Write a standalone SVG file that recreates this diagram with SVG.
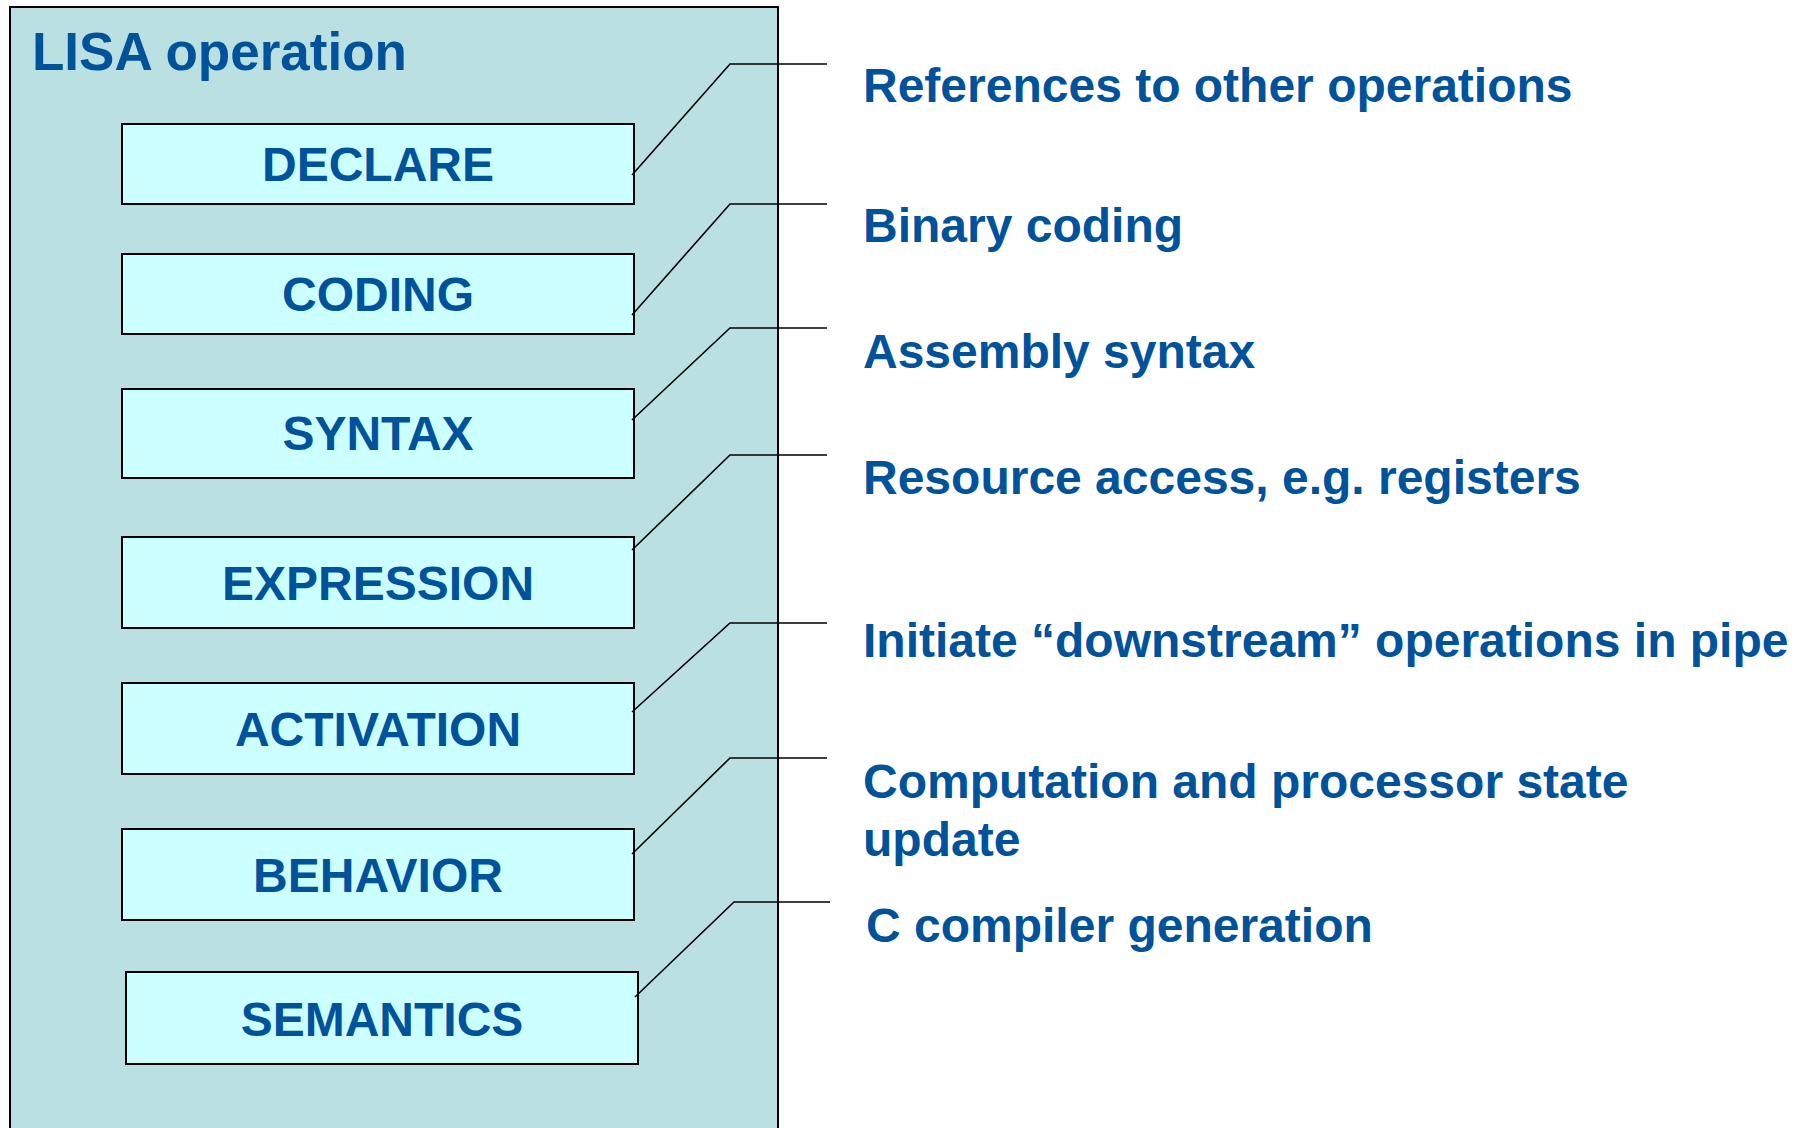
<svg xmlns="http://www.w3.org/2000/svg" width="1799" height="1128" viewBox="0 0 1799 1128">
  <style>
    .frame { fill: #BAE0E2; stroke: #000; stroke-width: 2; }
    .box { fill: #CCFFFF; stroke: #000; stroke-width: 2; }
    .lbl { font-family: "Liberation Sans", Arial, sans-serif; font-weight: bold; font-size: 48px; fill: #00529B; }
    .mid { text-anchor: middle; }
    .title { font-size: 53px; }
    .wire { fill: none; stroke: #000; stroke-width: 1.6; }
  </style>
  <rect width="1799" height="1128" fill="#FFFFFF"/>

  <!-- enclosing operation frame -->
  <g id="lisa-operation">
    <rect class="frame" x="10" y="7" width="768" height="1130"/>
    <text class="lbl title" x="32" y="70">LISA operation</text>
  </g>

  <!-- sections -->
  <g id="declare">
    <rect class="box" x="122" y="124" width="512" height="80"/>
    <text class="lbl mid" x="378" y="181">DECLARE</text>
  </g>
  <g id="coding">
    <rect class="box" x="122" y="254" width="512" height="80"/>
    <text class="lbl mid" x="378" y="311">CODING</text>
  </g>
  <g id="syntax">
    <rect class="box" x="122" y="389" width="512" height="89"/>
    <text class="lbl mid" x="378" y="450">SYNTAX</text>
  </g>
  <g id="expression">
    <rect class="box" x="122" y="537" width="512" height="91"/>
    <text class="lbl mid" x="378" y="600">EXPRESSION</text>
  </g>
  <g id="activation">
    <rect class="box" x="122" y="683" width="512" height="91"/>
    <text class="lbl mid" x="378" y="746">ACTIVATION</text>
  </g>
  <g id="behavior">
    <rect class="box" x="122" y="829" width="512" height="91"/>
    <text class="lbl mid" x="378" y="892">BEHAVIOR</text>
  </g>
  <g id="semantics">
    <rect class="box" x="126" y="972" width="512" height="92"/>
    <text class="lbl mid" x="382" y="1036">SEMANTICS</text>
  </g>

  <!-- leader lines from sections to descriptions -->
  <g id="connectors">
    <polyline class="wire" points="632,175 730,64 827,64"/>
    <polyline class="wire" points="632,315 730,204 827,204"/>
    <polyline class="wire" points="632,420 730,328 827,328"/>
    <polyline class="wire" points="632,550 730,455 827,455"/>
    <polyline class="wire" points="632,712 730,623 827,623"/>
    <polyline class="wire" points="632,854 730,758 827,758"/>
    <polyline class="wire" points="635,997 734,902 830,902"/>
  </g>

  <!-- descriptions -->
  <g id="descriptions">
    <text class="lbl" x="863" y="102">References to other operations</text>
    <text class="lbl" x="863" y="242">Binary coding</text>
    <text class="lbl" x="863" y="368">Assembly syntax</text>
    <text class="lbl" x="863" y="494">Resource access, e.g. registers</text>
    <text class="lbl" x="863" y="657">Initiate “downstream” operations in pipe</text>
    <text class="lbl" x="863" y="798">Computation and processor state</text>
    <text class="lbl" x="863" y="856">update</text>
    <text class="lbl" x="866" y="942">C compiler generation</text>
  </g>
</svg>
